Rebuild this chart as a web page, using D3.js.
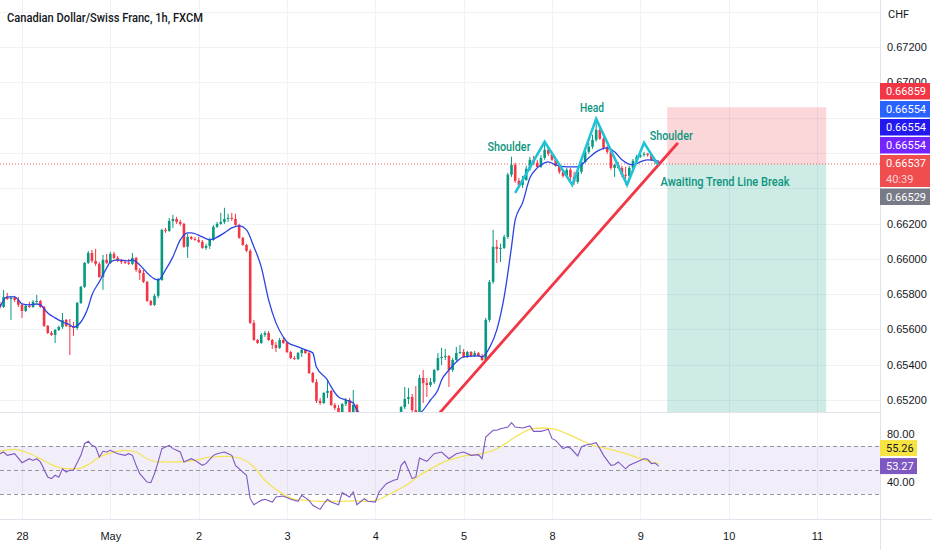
<!DOCTYPE html>
<html>
<head>
<meta charset="utf-8">
<script src="https://cdn.jsdelivr.net/npm/d3@7"></script>
<style>
  body { margin: 0; background: #fff; }
  svg { display: block; font-family: Roboto, "Liberation Sans", sans-serif; }
</style>
</head>
<body>
<svg id="chart" width="932" height="550"></svg>
<script>
// ---- data (1h bars, bar 6 = 28 Apr 00:00) ----
const opens = [
  0.65744,0.65727,0.65784,0.65773,0.65778,0.65767,0.65739,0.65705,0.65733,0.65727,
  0.65756,0.65761,0.65727,0.65620,0.65580,0.65569,0.65597,0.65614,0.65654,0.65620,
  0.65614,0.65608,0.65750,0.65841,0.65977,0.66033,0.65988,0.65971,0.65897,0.65994,
  0.65977,0.66028,0.66005,0.65988,0.65982,0.65977,0.65971,0.66005,0.65937,0.65920,
  0.65869,0.65761,0.65739,0.65790,0.65880,0.66164,0.66158,0.66215,0.66226,0.66209,
  0.66198,0.66068,0.66124,0.66113,0.66107,0.66096,0.66062,0.66073,0.66107,0.66181,
  0.66198,0.66209,0.66226,0.66232,0.66226,0.66192,0.66119,0.66079,0.66045,0.65637,
  0.65540,0.65523,0.65569,0.65580,0.65540,0.65512,0.65495,0.65540,0.65523,0.65472,
  0.65438,0.65432,0.65466,0.65484,0.65466,0.65353,0.65302,0.65194,0.65183,0.65240,
  0.65251,0.65172,0.65155,0.65132,0.65177,0.65200,0.65132,0.65172,0.65126,0.65104,
  0.65081,0.65064,0.65053,0.65070,0.65087,0.65081,0.65098,0.65104,0.65115,0.65109,
  0.65160,0.65206,0.65217,0.65143,0.65132,0.65325,0.65296,0.65285,0.65302,0.65370,
  0.65438,0.65444,0.65449,0.65370,0.65427,0.65466,0.65472,0.65444,0.65472,0.65449,
  0.65466,0.65449,0.65427,0.65654,0.65869,0.66068,0.66056,0.66062,0.66124,0.66476,
  0.66532,0.66442,0.66419,0.66447,0.66510,0.66561,0.66544,0.66521,0.66572,0.66618,
  0.66595,0.66561,0.66527,0.66493,0.66470,0.66504,0.66464,0.66436,0.66493,0.66549,
  0.66606,0.66635,0.66674,0.66731,0.66680,0.66629,0.66606,0.66515,0.66532,0.66515,
  0.66476,0.66470,0.66515,0.66555,0.66578,0.66589,0.66595,0.66589,0.66561,0.66549
];
const highs = [
  0.65756,0.65824,0.65807,0.65790,0.65790,0.65784,0.65744,0.65739,0.65756,0.65767,
  0.65795,0.65767,0.65733,0.65625,0.65591,0.65603,0.65620,0.65693,0.65659,0.65659,
  0.65642,0.65756,0.65846,0.65982,0.66045,0.66051,0.66056,0.65982,0.66022,0.66028,
  0.66039,0.66039,0.66016,0.65999,0.65994,0.65999,0.66033,0.66011,0.65948,0.65937,
  0.65875,0.65767,0.65801,0.65892,0.66170,0.66175,0.66232,0.66249,0.66238,0.66221,
  0.66204,0.66141,0.66130,0.66124,0.66124,0.66107,0.66085,0.66119,0.66192,0.66209,
  0.66260,0.66289,0.66255,0.66260,0.66255,0.66198,0.66124,0.66085,0.66056,0.65654,
  0.65546,0.65580,0.65591,0.65591,0.65546,0.65529,0.65552,0.65557,0.65529,0.65478,
  0.65449,0.65472,0.65489,0.65489,0.65478,0.65359,0.65319,0.65211,0.65245,0.65313,
  0.65257,0.65183,0.65172,0.65183,0.65211,0.65211,0.65257,0.65177,0.65126,0.65109,
  0.65087,0.65070,0.65081,0.65098,0.65098,0.65109,0.65115,0.65126,0.65126,0.65166,
  0.65274,0.65268,0.65234,0.65279,0.65342,0.65370,0.65325,0.65325,0.65376,0.65466,
  0.65495,0.65489,0.65455,0.65438,0.65501,0.65512,0.65489,0.65478,0.65478,0.65478,
  0.65472,0.65461,0.65665,0.65880,0.66164,0.66107,0.66085,0.66136,0.66487,0.66578,
  0.66544,0.66459,0.66470,0.66527,0.66578,0.66583,0.66561,0.66589,0.66657,0.66629,
  0.66606,0.66566,0.66532,0.66504,0.66515,0.66515,0.66493,0.66504,0.66561,0.66618,
  0.66657,0.66703,0.66793,0.66742,0.66691,0.66640,0.66618,0.66538,0.66549,0.66527,
  0.66521,0.66527,0.66566,0.66589,0.66612,0.66606,0.66600,0.66595,0.66566,0.66555
];
const lows = [
  0.65716,0.65722,0.65767,0.65654,0.65756,0.65727,0.65665,0.65699,0.65722,0.65722,
  0.65750,0.65722,0.65614,0.65574,0.65563,0.65523,0.65591,0.65603,0.65614,0.65455,
  0.65563,0.65597,0.65744,0.65835,0.65971,0.65977,0.65960,0.65892,0.65824,0.65971,
  0.65971,0.65999,0.65982,0.65971,0.65971,0.65965,0.65965,0.65926,0.65880,0.65863,
  0.65756,0.65733,0.65733,0.65778,0.65875,0.66147,0.66153,0.66175,0.66198,0.66187,
  0.66062,0.66005,0.66107,0.66102,0.66090,0.66056,0.66051,0.66056,0.66102,0.66175,
  0.66192,0.66198,0.66209,0.66215,0.66187,0.66113,0.66073,0.66039,0.65631,0.65535,
  0.65518,0.65518,0.65557,0.65535,0.65489,0.65472,0.65489,0.65518,0.65466,0.65432,
  0.65427,0.65427,0.65444,0.65461,0.65347,0.65296,0.65183,0.65172,0.65177,0.65211,
  0.65166,0.65143,0.65121,0.65121,0.65166,0.65115,0.65126,0.65115,0.65092,0.65070,
  0.65047,0.65036,0.65047,0.65064,0.65070,0.65075,0.65087,0.65098,0.65098,0.65104,
  0.65149,0.65177,0.65132,0.65121,0.65121,0.65183,0.65217,0.65274,0.65291,0.65364,
  0.65398,0.65427,0.65274,0.65359,0.65421,0.65461,0.65438,0.65438,0.65444,0.65444,
  0.65444,0.65421,0.65415,0.65642,0.65858,0.65977,0.65982,0.66056,0.66113,0.66464,
  0.66430,0.66408,0.66402,0.66442,0.66498,0.66532,0.66515,0.66515,0.66561,0.66583,
  0.66555,0.66521,0.66481,0.66459,0.66459,0.66436,0.66419,0.66425,0.66481,0.66544,
  0.66595,0.66623,0.66663,0.66674,0.66618,0.66595,0.66504,0.66464,0.66510,0.66464,
  0.66419,0.66447,0.66504,0.66549,0.66572,0.66578,0.66578,0.66555,0.66538,0.66532
];
const closes = [
  0.65727,0.65784,0.65773,0.65778,0.65767,0.65739,0.65705,0.65733,0.65727,0.65756,
  0.65761,0.65727,0.65620,0.65580,0.65569,0.65597,0.65614,0.65654,0.65620,0.65614,
  0.65608,0.65750,0.65841,0.65977,0.66033,0.65988,0.65971,0.65897,0.65994,0.65977,
  0.66028,0.66005,0.65988,0.65982,0.65977,0.65971,0.66005,0.65937,0.65920,0.65869,
  0.65761,0.65739,0.65790,0.65880,0.66164,0.66158,0.66215,0.66226,0.66209,0.66198,
  0.66068,0.66124,0.66113,0.66107,0.66096,0.66062,0.66073,0.66107,0.66181,0.66198,
  0.66209,0.66226,0.66232,0.66226,0.66192,0.66119,0.66079,0.66045,0.65637,0.65540,
  0.65523,0.65569,0.65580,0.65540,0.65512,0.65495,0.65540,0.65523,0.65472,0.65438,
  0.65432,0.65466,0.65484,0.65466,0.65353,0.65302,0.65194,0.65183,0.65240,0.65251,
  0.65172,0.65155,0.65132,0.65177,0.65200,0.65132,0.65172,0.65126,0.65104,0.65081,
  0.65064,0.65053,0.65070,0.65087,0.65081,0.65098,0.65104,0.65115,0.65109,0.65160,
  0.65206,0.65217,0.65143,0.65132,0.65325,0.65296,0.65285,0.65302,0.65370,0.65438,
  0.65444,0.65449,0.65370,0.65427,0.65466,0.65472,0.65444,0.65472,0.65449,0.65466,
  0.65449,0.65427,0.65654,0.65869,0.66068,0.66056,0.66062,0.66124,0.66476,0.66532,
  0.66442,0.66419,0.66447,0.66510,0.66561,0.66544,0.66521,0.66572,0.66618,0.66595,
  0.66561,0.66527,0.66493,0.66470,0.66504,0.66464,0.66436,0.66493,0.66549,0.66606,
  0.66635,0.66674,0.66731,0.66680,0.66629,0.66606,0.66515,0.66532,0.66515,0.66476,
  0.66470,0.66515,0.66555,0.66578,0.66589,0.66595,0.66589,0.66561,0.66549,0.66537
];

// blue moving average on price (bar index, value)
const maBars = [0,2,4,5,6,8,10,11,13,15,17,19,20,22,24,25,27,29,30,32,35,36,38,40,42,43,45,47,49,51,
  52,55,57,58,61,63,65,67,69,71,73,75,77,78,81,83,85,86,89,90,92,94,96,97,101,105,109,112,115,117,
  119,120,122,124,126,130,131,133,135,137,139,140,142,144,146,148,149,151,154,157,160,162,165,167,169,172,174,176,179];
const maValues = [0.65727,0.65784,0.65784,0.65767,0.65744,0.65739,0.65744,0.65739,0.65693,0.65665,
  0.65642,0.65625,0.65614,0.65642,0.65727,0.65795,0.65869,0.65948,0.65982,0.65994,
  0.65988,0.65994,0.65965,0.65920,0.65886,0.65880,0.65937,0.66011,0.66107,0.66147,
  0.66147,0.66124,0.66107,0.66113,0.66147,0.66175,0.66187,0.66164,0.66068,0.65954,
  0.65767,0.65637,0.65557,0.65529,0.65501,0.65484,0.65467,0.65387,0.65313,0.65274,
  0.65217,0.65200,0.65183,0.65143,0.65087,0.65064,0.65075,0.65098,0.65143,0.65200,
  0.65257,0.65313,0.65370,0.65415,0.65444,0.65450,0.65444,0.65495,0.65597,0.65784,
  0.66068,0.66221,0.66317,0.66459,0.66515,0.66544,0.66549,0.66532,0.66521,0.66521,
  0.66572,0.66606,0.66629,0.66606,0.66561,0.66532,0.66549,0.66561,0.66554];

// RSI and its moving average (bar index, value)
const rsiBars = [0,1,2,4,6,8,9,10,11,13,14,15,16,17,18,19,20,22,23,24,25,26,27,28,29,30,32,34,35,36,
  37,38,40,41,42,43,44,46,47,48,49,50,52,53,55,56,58,59,61,62,63,64,66,67,68,69,71,72,74,75,
  77,79,81,82,84,85,87,88,89,90,92,93,95,96,97,99,100,102,103,105,107,108,109,110,112,113,114,115,116,118,
  120,122,124,126,128,130,131,132,134,135,136,138,139,140,142,144,145,147,149,150,151,153,154,155,157,158,159,161,162,163,
  164,166,167,168,170,171,173,175,176,177,178,179];
const rsiValues = [63.6,65,62.2,63.6,56.1,59.4,58,59.4,56.7,44.2,42.8,45.6,44,51,48.3,49.7,50,62.2,71.9,73.9,70.6,69.2,60.8,65.6,65,66.4,63.6,62.2,63.6,62.2,
  53.9,46.9,40,39.4,46.9,56.7,67.8,70.6,67.8,66.4,65,56.7,59.4,58,53.9,55.3,62.2,63.6,65,63.6,62.2,53.9,48.3,45.6,26.1,21.1,24.7,25.6,23.3,27.5,
  28.3,25.6,23.9,28.9,24.7,20.6,17.2,21.9,25.6,23.3,21.1,31.1,27.5,31.7,21.1,26.1,23.9,23.3,31.7,38.6,41.4,42.2,53.9,57.2,42.8,44.2,60,58.6,57.2,63.6,
  65,59.4,63.6,65,62.2,62.8,59.4,77.5,83.1,83.1,84.4,85.8,89.4,85.8,85,86.7,82.2,82.2,83.9,76.1,74.7,67.8,69.2,68.3,61.7,69.2,70.6,71.9,72.8,67.8,
  62.2,53.9,54.4,56.7,51,53.9,56.7,59.4,58.9,55.3,55.8,53.27];
const rsiMaBars = [0,4,7,11,14,18,21,24,27,31,34,37,40,43,47,53,57,62,65,69,72,76,80,83,88,92,96,100,103,107,
  111,114,118,121,125,129,131,136,140,144,147,150,154,158,161,165,170,174,177,179];
const rsiMaValues = [65.6,67.2,65,59.4,54.4,51.1,51.1,54.4,60.8,65,66.4,65,59.4,56.7,56.7,58,60.8,61.4,60,52.5,
  41.4,31.7,25.6,24.7,23.9,23.9,24.2,23.9,25.6,31.7,38.6,45.6,52.5,57.2,60.8,62.8,63.6,69.2,77.5,83.9,
  85,84.4,80.3,74.7,70.6,67.8,63.6,59.4,56.5,55.26];

// axis ticks
const priceGrid = [0.674,0.672,0.670,0.668,0.666,0.664,0.662,0.660,0.658,0.656,0.654,0.652];
const priceLabels = [0.672,0.670,0.668,0.666,0.664,0.662,0.660,0.658,0.656,0.654,0.652];
const dayBars = [6,30,54,78,102,126,150,174,198,222];
const dayLabels = ["28","May","2","3","4","5","8","9","10","11"];
const rsiTicks = [80,40];
const rsiBands = [70,50,30];

// drawings
const trendBars = [112,184], trendPrices = [0.64950,0.66652];
const patternBars = [140,148,155.5,162,170.4,175,178.8];
const patternPrices = [0.66374,0.66663,0.66419,0.66793,0.66419,0.66657,0.66532];
const positionBars = [181.3,224.5];
const stopPrice = 0.66859, entryPrice = 0.66537, targetPrice = 0.64900;
const notes = [
  {text:"Shoulder", bar:138.3, price:0.66635, w:43},
  {text:"Head", bar:160.9, price:0.66856, w:24},
  {text:"Shoulder", bar:182.4, price:0.66697, w:43},
  {text:"Awaiting Trend Line Break", bar:197.0, price:0.66436, w:129}
];
const axisBoxes = [
  {label:"0.66859", bg:"#f23645", fg:"#fff"},
  {label:"0.66554", bg:"#2962ff", fg:"#fff"},
  {label:"0.66554", bg:"#2418f0", fg:"#fff"},
  {label:"0.66554", bg:"#7424ff", fg:"#fff"},
  {label:"0.66537", sub:"40:39", bg:"#f04d4f", fg:"#fff"},
  {label:"0.66529", bg:"#787b86", fg:"#fff"}
];
const lastRsi = 53.27, lastRsiMa = 55.26;

// ---- layout ----
const W = 932, H = 550;
const plotR = 880, mainB = 412, rsiT = 413, rsiB = 519;
const upColor = "#089981", downColor = "#f23645", gridColor = "#f0f2f6", textColor = "#131722";

const svg = d3.select("#chart");
const x = d3.scaleLinear().domain([6, 222]).range([22, 817]);
const y = d3.scaleLinear().domain([0.652, 0.672]).range([400, 47]);
const yR = d3.scaleLinear().domain([40, 80]).range([482, 434]);

// stack the price-scale label boxes
const boxH = 16.5, boxGap = 1.5, boxTop = 83;
let cursor = boxTop;
axisBoxes.forEach(b => {
  b.h = b.sub ? 32 : boxH;
  b.top = cursor;
  cursor += b.h + boxGap;
});

const defs = svg.append("defs");
defs.append("clipPath").attr("id", "clipMain").append("rect")
  .attr("x", 0).attr("y", 0).attr("width", plotR).attr("height", mainB);
defs.append("clipPath").attr("id", "clipRsi").append("rect")
  .attr("x", 0).attr("y", rsiT).attr("width", plotR).attr("height", rsiB - rsiT);
defs.append("clipPath").attr("id", "clipAbove").append("rect")
  .attr("x", plotR).attr("y", 0).attr("width", W - plotR).attr("height", boxTop);

svg.append("rect").attr("width", W).attr("height", H).attr("fill", "#fff");

// grid
const grid = svg.append("g");
grid.selectAll(".hg").data(priceGrid).join("line")
  .attr("x1", 0).attr("x2", plotR)
  .attr("y1", d => Math.round(y(d)) + 0.5).attr("y2", d => Math.round(y(d)) + 0.5)
  .attr("stroke", gridColor);
grid.selectAll(".vg").data(dayBars).join("line")
  .attr("x1", d => Math.round(x(d)) + 0.5).attr("x2", d => Math.round(x(d)) + 0.5)
  .attr("y1", 0).attr("y2", rsiB)
  .attr("stroke", gridColor);

// ---- main pane ----
const main = svg.append("g").attr("clip-path", "url(#clipMain)");

// short position tool
const px0 = x(positionBars[0]), px1 = x(positionBars[1]);
main.append("rect").attr("x", px0).attr("width", px1 - px0)
  .attr("y", y(stopPrice)).attr("height", y(entryPrice) - y(stopPrice))
  .attr("fill", "rgba(242,54,69,0.2)");
main.append("rect").attr("x", px0).attr("width", px1 - px0)
  .attr("y", y(entryPrice)).attr("height", y(targetPrice) - y(entryPrice))
  .attr("fill", "rgba(8,153,129,0.2)");

// current price dotted line
main.append("line")
  .attr("x1", 0).attr("x2", plotR)
  .attr("y1", y(closes[closes.length - 1])).attr("y2", y(closes[closes.length - 1]))
  .attr("stroke", "#f23645").attr("stroke-opacity", 0.8).attr("stroke-dasharray", "1 2");

// candles
const bars = d3.range(closes.length).map(i => ({
  i, o: opens[i], h: highs[i], l: lows[i], c: closes[i]
}));
const bodyW = 2.6;
const candle = main.append("g").selectAll("g").data(bars).join("g")
  .attr("fill", d => d.c >= d.o ? upColor : downColor)
  .attr("stroke", d => d.c >= d.o ? upColor : downColor);
candle.append("line")
  .attr("x1", d => x(d.i)).attr("x2", d => x(d.i))
  .attr("y1", d => y(d.h)).attr("y2", d => y(d.l))
  .attr("stroke-width", 1);
candle.append("rect")
  .attr("x", d => x(d.i) - bodyW / 2).attr("width", bodyW)
  .attr("y", d => y(Math.max(d.o, d.c)))
  .attr("height", d => Math.max(1, Math.abs(y(d.o) - y(d.c))))
  .attr("stroke", "none");

// moving average
const maPts = maBars.map((b, k) => [b, maValues[k]]);
main.append("path").datum(maPts)
  .attr("fill", "none").attr("stroke", "#2b44e0").attr("stroke-width", 1.3)
  .attr("d", d3.line().x(d => x(d[0])).y(d => y(d[1])).curve(d3.curveMonotoneX));

// trend line
main.append("line")
  .attr("x1", x(trendBars[0])).attr("y1", y(trendPrices[0]))
  .attr("x2", x(trendBars[1])).attr("y2", y(trendPrices[1]))
  .attr("stroke", "#f23645").attr("stroke-width", 2.8).attr("stroke-linecap", "round");

// head & shoulders zigzag
main.append("path").datum(patternBars.map((b, k) => [b, patternPrices[k]]))
  .attr("fill", "none").attr("stroke", "#1fc3d8").attr("stroke-width", 2.6)
  .attr("stroke-linejoin", "miter")
  .attr("d", d3.line().x(d => x(d[0])).y(d => y(d[1])));

// annotations
main.selectAll(".note").data(notes).join("text")
  .attr("x", d => x(d.bar)).attr("y", d => y(d.price)).attr("dy", "0.35em")
  .attr("text-anchor", "middle")
  .attr("font-size", 12).attr("font-weight", 500).attr("fill", "#0c957f")
  .attr("textLength", d => d.w).attr("lengthAdjust", "spacingAndGlyphs")
  .text(d => d.text);

// title
svg.append("text").attr("x", 7).attr("y", 22)
  .attr("font-size", 13).attr("font-weight", 500).attr("fill", textColor)
  .attr("textLength", 196).attr("lengthAdjust", "spacingAndGlyphs")
  .text("Canadian Dollar/Swiss Franc, 1h, FXCM");

// ---- RSI pane ----
const rsiG = svg.append("g").attr("clip-path", "url(#clipRsi)");
rsiG.append("rect").attr("x", 0).attr("width", plotR)
  .attr("y", yR(rsiBands[0])).attr("height", yR(rsiBands[2]) - yR(rsiBands[0]))
  .attr("fill", "rgba(126,87,194,0.1)");
rsiG.selectAll(".band").data(rsiBands).join("line")
  .attr("x1", 0).attr("x2", plotR)
  .attr("y1", d => Math.round(yR(d)) + 0.5).attr("y2", d => Math.round(yR(d)) + 0.5)
  .attr("stroke", "#9598a1").attr("stroke-dasharray", "4 3");
rsiG.append("path").datum(rsiMaBars.map((b, k) => [b, rsiMaValues[k]]))
  .attr("fill", "none").attr("stroke", "#f5e35a").attr("stroke-width", 1.3)
  .attr("d", d3.line().x(d => x(d[0])).y(d => yR(d[1])).curve(d3.curveMonotoneX));
rsiG.append("path").datum(rsiBars.map((b, k) => [b, rsiValues[k]]))
  .attr("fill", "none").attr("stroke", "#7e57c2").attr("stroke-width", 1.1)
  .attr("d", d3.line().x(d => x(d[0])).y(d => yR(d[1])));

// pane borders
svg.append("line").attr("x1", 0).attr("x2", plotR).attr("y1", mainB + 0.5).attr("y2", mainB + 0.5)
  .attr("stroke", "#e0e3eb");
svg.append("line").attr("x1", 0).attr("x2", W).attr("y1", rsiB + 0.5).attr("y2", rsiB + 0.5)
  .attr("stroke", "#e0e3eb");
svg.append("line").attr("x1", plotR + 0.5).attr("x2", plotR + 0.5).attr("y1", 0).attr("y2", H)
  .attr("stroke", "#e0e3eb");

// ---- axes ----
// labels that sit under a box are not drawn; one peeking above the stack is clipped at its top
const underBox = v => axisBoxes.some(b => y(v) > b.top - 0.5 && y(v) < b.top + b.h + 3);
const peeking = v => !underBox(v) && y(v) > boxTop - 8 && y(v) < boxTop;

const priceAxis = svg.append("g").attr("transform", `translate(${plotR},0)`)
  .call(d3.axisRight(y).tickValues(priceLabels.filter(v => !underBox(v)))
    .tickFormat(d3.format(".5f")).tickSize(0).tickPadding(7));
priceAxis.select(".domain").remove();
priceAxis.selectAll("text").attr("font-size", 11).attr("fill", textColor);
priceAxis.selectAll(".tick").filter(d => peeking(d))
  .attr("clip-path", `url(#clipPeek)`);
defs.append("clipPath").attr("id", "clipPeek").attr("clipPathUnits", "userSpaceOnUse")
  .append("rect").attr("x", -10).attr("width", 80)
  .attr("y", -20).attr("height", 20 + boxTop - y(priceLabels.find(peeking) || 0));

svg.append("text").attr("x", 888).attr("y", 18).attr("font-size", 11).attr("fill", textColor)
  .text("CHF");

const boxG = svg.append("g");
axisBoxes.forEach(b => {
  boxG.append("rect").attr("x", plotR).attr("y", b.top).attr("width", 50).attr("height", b.h)
    .attr("fill", b.bg);
  boxG.append("text").attr("x", 886).attr("y", b.top + 8.5).attr("dy", "0.35em")
    .attr("font-size", 11).attr("fill", b.fg).text(b.label);
  if (b.sub) {
    boxG.append("text").attr("x", 886).attr("y", b.top + 24).attr("dy", "0.35em")
      .attr("font-size", 11).attr("fill", "#ffd3d6").text(b.sub);
  }
});

const rsiAxis = svg.append("g").attr("transform", `translate(${plotR},0)`)
  .call(d3.axisRight(yR).tickValues(rsiTicks).tickFormat(d3.format(".2f")).tickSize(0).tickPadding(7));
rsiAxis.select(".domain").remove();
rsiAxis.selectAll("text").attr("font-size", 11).attr("fill", textColor);

// RSI value boxes: purple at its value, yellow stacked above
const rsiBoxH = 16;
const purpleTop = yR(lastRsi) - rsiBoxH / 2;
const yellowTop = Math.min(yR(lastRsiMa) - rsiBoxH / 2, purpleTop - rsiBoxH - 2);
[[yellowTop, "#f7e442", textColor, lastRsiMa], [purpleTop, "#7e57c2", "#fff", lastRsi]].forEach(([t, bg, fg, v]) => {
  svg.append("rect").attr("x", plotR).attr("y", t).attr("width", 37).attr("height", rsiBoxH).attr("fill", bg);
  svg.append("text").attr("x", 886).attr("y", t + rsiBoxH / 2).attr("dy", "0.35em")
    .attr("font-size", 11).attr("fill", fg).text(v.toFixed(2));
});

const timeAxis = svg.append("g").attr("transform", `translate(0,${rsiB + 1})`)
  .call(d3.axisBottom(x).tickValues(dayBars).tickFormat((d, k) => dayLabels[k]).tickSize(0).tickPadding(12));
timeAxis.select(".domain").remove();
timeAxis.selectAll("text").attr("font-size", 11).attr("fill", textColor);
</script>
</body>
</html>
